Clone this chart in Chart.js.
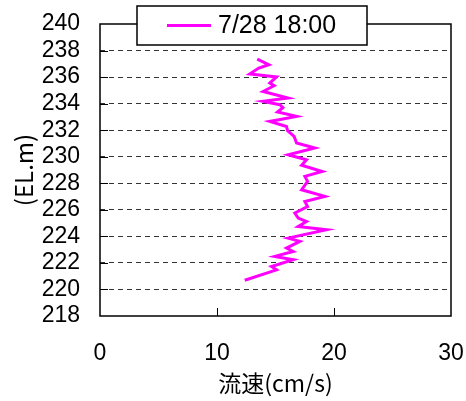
<!DOCTYPE html>
<html>
<head>
<meta charset="utf-8">
<script src="https://cdn.jsdelivr.net/npm/chart.js@4/dist/chart.umd.min.js"></script>
<style>
    html, body { margin: 0; padding: 0; background: #fff; }
    #wrap { width: 466px; height: 401px; }
</style>
</head>
<body>
<div id="wrap"><canvas id="velChart" width="466" height="401"></canvas></div>
<script>
// velocity profile, 7/28 18:00
const seriesLabel = '7/28 18:00';
const elevation = [
    237.36, 236.93, 236.68, 236.23, 236.01, 235.55, 235.35, 234.92, 234.42, 234.17,
    233.92, 233.70, 233.37, 233.04, 232.66, 232.28, 231.96, 231.53, 231.03, 230.66,
    230.15, 229.77, 229.36, 228.89, 228.52, 228.14, 227.51, 227.01, 226.63, 226.25,
    225.76, 225.38, 225.12, 224.75, 224.50, 223.87, 223.62, 223.12, 222.86, 222.49,
    222.24, 221.73, 221.48, 220.69
];
const velocity = [
    13.44, 14.43, 13.57, 12.80, 15.09, 14.51, 14.88, 13.94, 16.08, 13.94,
    15.37, 15.63, 15.17, 16.80, 14.51, 15.94, 16.03, 16.59, 16.80, 18.36,
    16.08, 17.65, 17.23, 18.99, 17.51, 17.74, 17.23, 19.22, 17.51, 17.74,
    16.65, 16.94, 17.65, 16.94, 19.37, 16.08, 17.08, 15.94, 16.51, 14.94,
    16.51, 14.66, 15.09, 12.37
];
const xTicks = [0, 10, 20, 30];
const yTicks = [218, 220, 222, 224, 226, 228, 230, 232, 234, 236, 238, 240];

const numFont = "'Liberation Sans Narrow', 'Liberation Sans', sans-serif";
const jpFont = "'Noto Sans CJK JP', sans-serif";
const lineColor = '#ff00ff';

const points = elevation.map((el, i) => ({ x: velocity[i], y: el }));

// keep the plot area fixed: no extra room for the outer tick labels
function noScalePadding(s) {
    s.paddingLeft = 0;
    s.paddingRight = 0;
    s.paddingTop = 0;
    s.paddingBottom = 0;
}

// frame, inward tick marks and the boxed legend
const frameAndLegend = {
    id: 'frameAndLegend',
    afterDraw(chart) {
        const { ctx, chartArea: a, scales } = chart;
        ctx.save();
        ctx.strokeStyle = '#000';
        ctx.lineWidth = 1.5;
        ctx.strokeRect(a.left, a.top, a.right - a.left, a.bottom - a.top);

        ctx.lineWidth = 1;
        ctx.beginPath();
        xTicks.slice(1, -1).forEach(v => {
            const px = Math.round(scales.x.getPixelForValue(v)) + 0.5;
            ctx.moveTo(px, a.bottom);
            ctx.lineTo(px, a.bottom - 8);
        });
        yTicks.slice(1, -1).forEach(v => {
            const py = Math.round(scales.y.getPixelForValue(v)) + 0.5;
            ctx.moveTo(a.left, py);
            ctx.lineTo(a.left + 8, py);
        });
        ctx.stroke();

        // legend box over the top edge
        const bx = 137, by = 6, bw = 230, bh = 39;
        ctx.fillStyle = '#fff';
        ctx.fillRect(bx, by, bw, bh);
        ctx.lineWidth = 1.5;
        ctx.strokeRect(bx, by, bw, bh);
        ctx.strokeStyle = lineColor;
        ctx.lineWidth = 3;
        ctx.beginPath();
        ctx.moveTo(167, 25.5);
        ctx.lineTo(211, 25.5);
        ctx.stroke();
        ctx.fillStyle = '#000';
        ctx.font = "25px " + numFont;
        ctx.textBaseline = 'middle';
        ctx.textAlign = 'left';
        ctx.fillText(chart.data.datasets[0].label, 218, 26);
        ctx.restore();
    }
};

new Chart(document.getElementById('velChart'), {
    type: 'scatter',
    data: {
        datasets: [{
            label: seriesLabel,
            data: points,
            showLine: true,
            borderColor: lineColor,
            borderWidth: 3,
            pointRadius: 0,
            tension: 0,
            fill: false
        }]
    },
    options: {
        responsive: false,
        animation: false,
        layout: { padding: { top: 24, right: 15, left: 0, bottom: 0 } },
        plugins: {
            legend: { display: false },
            tooltip: { enabled: false }
        },
        scales: {
            x: {
                type: 'linear',
                min: 0,
                max: 30,
                afterBuildTicks: s => { s.ticks = xTicks.map(v => ({ value: v })); },
                afterFit: s => { s.height = 85; noScalePadding(s); },
                grid: { display: false, drawTicks: false },
                border: { display: false },
                ticks: {
                    autoSkip: false,
                    maxRotation: 0,
                    padding: 24,
                    color: '#000',
                    font: { family: numFont, size: 23 }
                },
                title: {
                    display: true,
                    text: '流速(cm/s)',
                    color: '#000',
                    font: { family: jpFont, size: 23 },
                    padding: { top: 0, bottom: 4 }
                }
            },
            y: {
                type: 'linear',
                min: 218,
                max: 240,
                afterBuildTicks: s => { s.ticks = yTicks.map(v => ({ value: v })); },
                afterFit: s => { s.width = 100; noScalePadding(s); },
                grid: {
                    drawTicks: false,
                    color: ctx => (ctx.tick && (ctx.tick.value === 218 || ctx.tick.value === 240)) ? 'rgba(0,0,0,0)' : '#333',
                    lineWidth: 1
                },
                border: { display: false, dash: [5, 4] },
                ticks: {
                    autoSkip: false,
                    padding: 20,
                    color: '#000',
                    font: { family: numFont, size: 23 }
                },
                title: {
                    display: true,
                    text: '(EL.m)',
                    color: '#000',
                    font: { family: jpFont, size: 24 },
                    padding: { top: 9, bottom: 0 }
                }
            }
        }
    },
    plugins: [frameAndLegend]
});
</script>
</body>
</html>
